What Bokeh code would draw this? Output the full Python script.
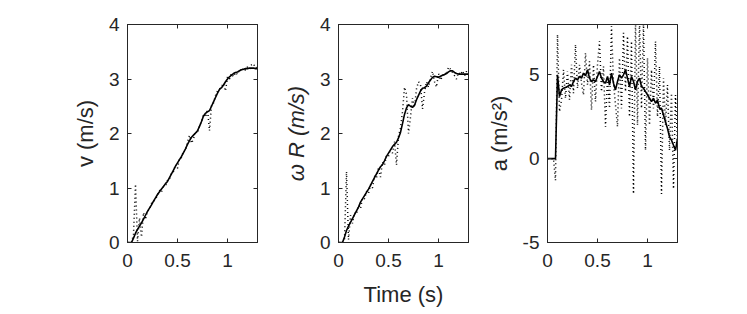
from bokeh.plotting import figure
from bokeh.models import Range1d, FixedTicker, LinearAxis, CustomJSTickFormatter
from bokeh.layouts import row
from bokeh.embed import file_html
from bokeh.resources import INLINE

time = [0.00, 0.02, 0.04, 0.06, 0.08, 0.10, 0.12, 0.14, 0.16, 0.18,
        0.20, 0.22, 0.24, 0.26, 0.28, 0.30, 0.32, 0.34, 0.36, 0.38,
        0.40, 0.42, 0.44, 0.46, 0.48, 0.50, 0.52, 0.54, 0.56, 0.58,
        0.60, 0.62, 0.64, 0.66, 0.68, 0.70, 0.72, 0.74, 0.76, 0.78,
        0.80, 0.82, 0.84, 0.86, 0.88, 0.90, 0.92, 0.94, 0.96, 0.98,
        1.00, 1.02, 1.04, 1.06, 1.08, 1.10, 1.12, 1.14, 1.16, 1.18,
        1.20, 1.22, 1.24, 1.26, 1.28, 1.30]

v_smooth = [0.00, 0.00, 0.00, 0.08, 0.17, 0.24, 0.30, 0.36, 0.43, 0.50,
            0.57, 0.63, 0.69, 0.76, 0.82, 0.88, 0.93, 0.98, 1.03, 1.08,
            1.12, 1.19, 1.26, 1.33, 1.40, 1.46, 1.52, 1.58, 1.65, 1.72,
            1.80, 1.87, 1.93, 1.97, 2.01, 2.05, 2.13, 2.22, 2.32, 2.37,
            2.40, 2.42, 2.50, 2.58, 2.66, 2.74, 2.81, 2.84, 2.89, 2.95,
            3.00, 3.04, 3.07, 3.10, 3.12, 3.13, 3.15, 3.17, 3.18, 3.19,
            3.19, 3.20, 3.20, 3.20, 3.19, 3.19]

v_raw = [0.00, 0.00, 0.00, 0.15, 1.07, 0.02, 0.45, 0.10, 0.55, 0.42,
         0.58, 0.60, 0.72, 0.74, 0.80, 0.86, 0.96, 0.92, 1.06, 1.02,
         1.14, 1.16, 1.28, 1.30, 1.43, 1.36, 1.55, 1.56, 1.68, 1.68,
         1.84, 1.97, 1.82, 1.90, 2.04, 2.00, 2.16, 2.20, 2.36, 2.30,
         2.44, 2.05, 2.52, 2.56, 2.70, 2.78, 2.82, 2.86, 2.92, 2.78,
         3.04, 3.00, 3.10, 3.04, 3.12, 3.08, 3.18, 3.14, 3.20, 3.16,
         3.22, 3.18, 3.26, 3.28, 3.20, 3.22]

wR_smooth = [0.00, 0.00, 0.00, 0.10, 0.22, 0.30, 0.37, 0.44, 0.51, 0.58,
             0.65, 0.74, 0.80, 0.86, 0.92, 0.98, 1.05, 1.12, 1.19, 1.26,
             1.33, 1.39, 1.43, 1.50, 1.58, 1.64, 1.70, 1.76, 1.80, 1.84,
             1.92, 2.02, 2.18, 2.35, 2.47, 2.53, 2.50, 2.48, 2.52, 2.62,
             2.70, 2.78, 2.83, 2.84, 2.87, 2.93, 2.98, 3.03, 3.05, 3.04,
             3.03, 3.05, 3.07, 3.08, 3.10, 3.13, 3.15, 3.15, 3.12, 3.10,
             3.09, 3.09, 3.09, 3.09, 3.09, 3.09]

wR_raw = [0.00, 0.00, 0.00, 0.05, 1.30, 0.05, 0.50, 0.35, 0.55, 0.52,
          0.68, 0.62, 0.82, 0.80, 0.94, 0.90, 1.06, 1.00, 1.22, 1.18,
          1.38, 1.20, 1.48, 1.42, 1.60, 1.58, 1.72, 1.64, 1.85, 1.42,
          1.95, 2.10, 2.40, 2.85, 2.72, 2.00, 2.30, 2.65, 2.48, 2.82,
          2.95, 2.90, 2.45, 2.75, 2.95, 2.85, 3.02, 3.14, 2.95, 2.85,
          3.10, 2.98, 3.05, 3.12, 3.08, 3.22, 3.18, 3.12, 3.06, 3.00,
          3.12, 3.08, 3.15, 3.06, 3.14, 3.08]

a_smooth = [0.0, 0.0, 0.0, 0.0, 0.0, 5.0, 3.7, 4.1, 4.2, 4.25,
            4.3, 4.4, 4.3, 4.6, 4.8, 4.7, 4.9, 4.8, 5.1, 4.95,
            5.3, 4.8, 4.6, 4.7, 4.6, 4.9, 5.2, 4.8, 4.6, 4.5,
            4.9, 4.4, 5.1, 4.5, 4.1, 4.6, 5.0, 4.8, 5.0, 5.3,
            4.8, 4.3, 4.9, 4.6, 4.1, 4.6, 4.8, 4.3, 4.2, 4.0,
            3.8, 3.6, 3.4, 3.6, 3.3, 3.5, 3.0, 3.0, 2.6, 2.2,
            1.8, 1.3, 1.1, 0.8, 0.5, 1.2]

a_raw = [0.0, 0.0, 0.0, 0.0, -1.3, 7.4, 2.8, 3.5, 5.3, 3.6,
         5.2, 3.5, 5.6, 3.9, 6.8, 4.2, 5.6, 4.5, 3.8, 6.3,
         4.4, 5.8, 2.9, 5.6, 3.4, 5.6, 7.0, 4.0, 5.5, 1.9,
         4.9, 3.0, 7.9, 4.5, 3.2, 1.9, 6.0, 3.0, 7.5, 4.0,
         7.3, 2.5, 7.0, -2.1, 8.2, 2.0, 8.3, 3.0, 8.1, 0.5,
         6.0, 2.0, 5.3, 3.0, 7.0, 2.5, 5.5, -2.1, 4.8, 2.0,
         4.4, 0.5, 3.9, -1.8, 3.8, 1.0]

x_ticks = [0, 0.5, 1]
v_ticks = [0, 1, 2, 3, 4]
a_ticks = [-5, 0, 5]

FONT = "Liberation Sans"
INK = "#262626"


def make_panel(raw, smooth, ylim, yticks, ylabel, left, right, xlabel="", italic=False):
    p = figure(frame_width=130, frame_height=218,
               min_border_left=left, min_border_right=right,
               min_border_top=24, min_border_bottom=64,
               x_range=Range1d(0, 1.3), y_range=Range1d(*ylim),
               output_backend="svg", toolbar_location=None,
               background_fill_color="white", border_fill_color="white")
    p.grid.visible = False
    p.outline_line_color = INK
    p.outline_line_width = 1
    p.outline_line_alpha = 1

    p.line(time, raw, line_color="black", line_width=1.5, line_dash="1 3")
    p.line(time, smooth, line_color="black", line_width=1.6)

    fmt = CustomJSTickFormatter(code="return String(tick)")
    blank = CustomJSTickFormatter(code="return ''")

    for ax, ticks in ((p.xaxis[0], x_ticks), (p.yaxis[0], yticks)):
        ax.ticker = FixedTicker(ticks=ticks)
        ax.formatter = fmt
        ax.minor_tick_line_color = None
        ax.major_tick_in = 4
        ax.major_tick_out = 0
        ax.major_tick_line_color = INK
        ax.axis_line_color = INK
        ax.major_label_text_font = FONT
        ax.major_label_text_font_size = "19px"
        ax.major_label_text_color = INK
        ax.major_label_standoff = 8
        ax.axis_label_text_font = FONT
        ax.axis_label_text_font_size = "22px"
        ax.axis_label_text_color = INK
        ax.axis_label_standoff = 8

    p.yaxis[0].axis_label = ylabel
    if italic:
        p.yaxis[0].axis_label_text_font_style = "italic"
    else:
        p.yaxis[0].axis_label_text_font_style = "normal"
    p.xaxis[0].axis_label = xlabel
    p.xaxis[0].axis_label_text_font_style = "normal"
    p.xaxis[0].major_label_standoff = 11
    p.xaxis[0].axis_label_standoff = 12

    top = LinearAxis(ticker=FixedTicker(ticks=x_ticks), formatter=blank)
    rgt = LinearAxis(ticker=FixedTicker(ticks=yticks), formatter=blank)
    for ax in (top, rgt):
        ax.minor_tick_line_color = None
        ax.major_tick_in = 4
        ax.major_tick_out = 0
        ax.major_tick_line_color = INK
        ax.axis_line_color = INK
        ax.major_label_text_font_size = "10px"
        ax.major_label_standoff = 0
    p.add_layout(top, "above")
    p.add_layout(rgt, "right")
    return p


p1 = make_panel(v_raw, v_smooth, (0, 4), v_ticks, "v (m/s)", 127, 10)
p2 = make_panel(wR_raw, wR_smooth, (0, 4), v_ticks, "ω R (m/s)", 71, 10,
                xlabel="Time (s)", italic=True)
p3 = make_panel(a_raw, a_smooth, (-5, 8), a_ticks, "a (m/s²)", 69, 20)

layout = row(p1, p2, p3)
open("out.html", "w").write(file_html(layout, INLINE))
